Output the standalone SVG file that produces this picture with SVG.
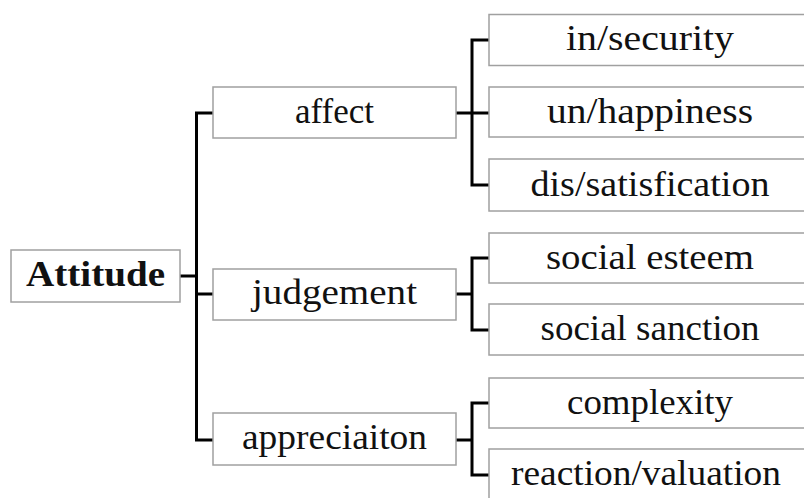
<svg xmlns="http://www.w3.org/2000/svg" width="804" height="498" viewBox="0 0 804 498">
<style>
.box{fill:#fff;stroke:#a0a0a0;stroke-width:1.5}
.t{font-family:'Liberation Serif',serif;font-size:35px;fill:#111;text-anchor:middle}
.b{font-weight:bold}
.c{fill:none;stroke:#000;stroke-width:3;stroke-linejoin:miter}
</style>
<rect width="804" height="498" fill="#fff"/>
<g id="connectors">
<path class="c" d="M180,276 H196.5 M213,113 H196.5 V440 H213 M196.5,294 H213"/>
<path class="c" d="M489,40 H472 V185 H489 M456,113 H489"/>
<path class="c" d="M489,258 H472 V330 H489 M456,294 H472"/>
<path class="c" d="M489,403 H472 V475 H489 M456,440 H472"/>
</g>
<g id="attitude"><rect class="box" x="11" y="250" width="169" height="52"/><text class="t b" x="95.5" y="286" textLength="139" lengthAdjust="spacingAndGlyphs">Attitude</text></g>
<g id="affect"><rect class="box" x="213" y="87" width="243" height="51"/><text class="t" x="334.5" y="123" textLength="79" lengthAdjust="spacingAndGlyphs">affect</text></g>
<g id="judgement"><rect class="box" x="213" y="269" width="243" height="51"/><text class="t" x="334.5" y="304" textLength="165" lengthAdjust="spacingAndGlyphs">judgement</text></g>
<g id="appreciaiton"><rect class="box" x="213" y="413" width="243" height="52"/><text class="t" x="334.5" y="449" textLength="185" lengthAdjust="spacingAndGlyphs">appreciaiton</text></g>
<g id="insecurity"><rect class="box" x="489" y="14.5" width="322" height="51"/><text class="t" x="650" y="50" textLength="168" lengthAdjust="spacingAndGlyphs">in/security</text></g>
<g id="unhappiness"><rect class="box" x="489" y="87" width="322" height="50"/><text class="t" x="650" y="122.5" textLength="206" lengthAdjust="spacingAndGlyphs">un/happiness</text></g>
<g id="dissatisfication"><rect class="box" x="489" y="159" width="322" height="52"/><text class="t" x="650" y="195.5" textLength="239" lengthAdjust="spacingAndGlyphs">dis/satisfication</text></g>
<g id="socialesteem"><rect class="box" x="489" y="233" width="322" height="50"/><text class="t" x="650" y="268.5" textLength="208" lengthAdjust="spacingAndGlyphs">social esteem</text></g>
<g id="socialsanction"><rect class="box" x="489" y="304" width="322" height="51"/><text class="t" x="650" y="340" textLength="219" lengthAdjust="spacingAndGlyphs">social sanction</text></g>
<g id="complexity"><rect class="box" x="489" y="378" width="322" height="50"/><text class="t" x="650" y="413.5" textLength="166" lengthAdjust="spacingAndGlyphs">complexity</text></g>
<g id="reactionvaluation"><rect class="box" x="489" y="449" width="322" height="52"/><text class="t" x="646" y="485" textLength="270" lengthAdjust="spacingAndGlyphs">reaction/valuation</text></g>
</svg>
